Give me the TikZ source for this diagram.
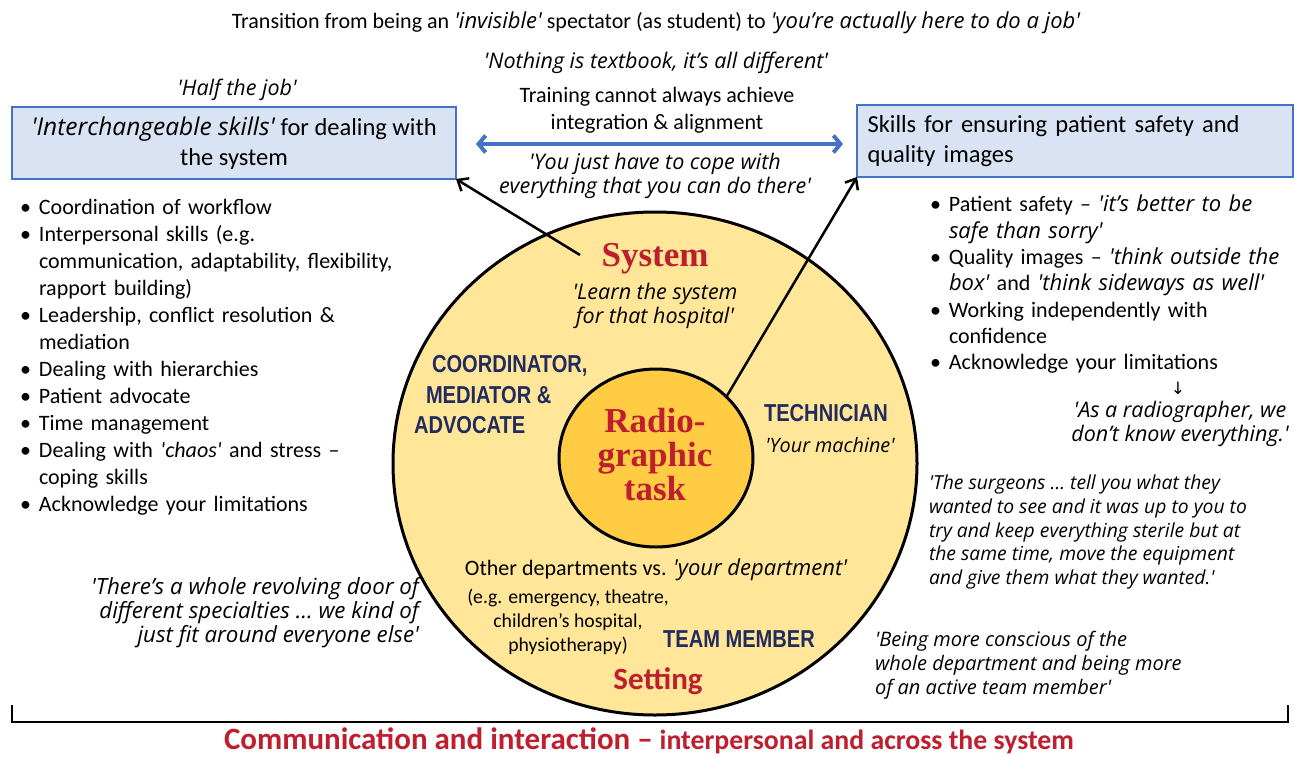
\documentclass[tikz,border=0pt]{standalone}
\usepackage{fontspec}
\setmainfont{Carlito}
\newfontfamily\qfont{Open Sans}
\newfontfamily\serifb{Liberation Serif}
\newfontfamily\rolefont{Liberation Sans}[FakeStretch=0.82]
\newfontfamily\symfont{DejaVu Sans}
\usetikzlibrary{arrows.meta,shapes.geometric}
\definecolor{boxfill}{HTML}{DAE3F3}
\definecolor{boxline}{HTML}{4472C4}
\definecolor{outerfill}{HTML}{FFE699}
\definecolor{innerfill}{HTML}{FFCC44}
\definecolor{darkred}{HTML}{BE1E2D}
\definecolor{navy}{HTML}{222B5E}
\newcommand\qt[1]{{\qfont\itshape #1}}
\newcommand\sq{\textquotesingle}
\newcommand\itm{\par\hangindent=19pt\hangafter=1\noindent\makebox[19pt][l]{\textbullet}}
\newcommand\fs[2]{\fontsize{#1}{#2}\selectfont}
\tikzset{
  x=1pt, y=-1pt,
  every node/.style={inner sep=0pt, outer sep=0pt},
  body/.style={font=\fs{22}{27}},
  quote/.style={font=\qfont\itshape\fs{21.5}{24}},
  skillbox/.style={draw=boxline, line width=2.5pt, fill=boxfill, minimum height=72pt},
  role/.style={font=\rolefont\bfseries\fs{24.5}{30.5}, text=navy},
  bigserif/.style={font=\serifb\bfseries\fs{35}{34}, text=darkred},
  link/.style={line width=2.5pt, -{Straight Barb[length=9pt,width=15pt]}},
  dblarrow/.style={line width=4pt, draw=boxline, {Straight Barb[length=7pt,width=17pt]}-{Straight Barb[length=7pt,width=17pt]}},
}
\begin{document}
\begin{tikzpicture}
\useasboundingbox (0,0) rectangle (1294,758);

% circles
\node[draw, line width=3pt, fill=outerfill, ellipse, minimum width=524pt, minimum height=503pt] (outer) at (655,463.5) {};
\node[draw, line width=3pt, fill=innerfill, ellipse, minimum width=194pt, minimum height=178pt] (inner) at (656,458) {};

% top texts
\node[body] (transition) at (656,23) {Transition from being an \qt{\sq invisible\sq} spectator (as student) to \qt{\sq you’re actually here to do a job\sq}};
\node[quote] (textbook) at (656,63) {\sq Nothing is textbook, it’s all different\sq};
\node[quote] (halfjob) at (237,90) {\sq Half the job\sq};
\node[body, align=center] (training) at (657,110) {Training cannot always achieve\\integration \& alignment};
\node[quote, align=center] (cope) at (655,176) {\sq You just have to cope with\\everything that you can do there\sq};

% boxes
\node[skillbox, minimum width=444pt, align=center, font=\fs{24.5}{30}] (lbox) at (234,143) {\qt{\sq Interchangeable skills\sq} for dealing with\\the system};
\node[skillbox, minimum width=436pt, text width=415pt, align=left, font=\fs{24.5}{30}] (rbox) at (1075,141) {Skills for ensuring patient safety and\\quality images};

\draw[dblarrow] ([xshift=20pt,yshift=-1pt]lbox.east) -- ([xshift=-14pt,yshift=-3pt]rbox.west);

% left list
\node[body, anchor=west, text width=400pt, align=left] (llist) at (20,351) {%
\itm Coordination of workflow
\itm Interpersonal skills (e.g.\newline communication, adaptability, flexibility,\newline rapport building)
\itm Leadership, conflict resolution \&\newline mediation
\itm Dealing with hierarchies
\itm Patient advocate
\itm Time management
\itm Dealing with \textit{\sq chaos\sq} and stress –\newline coping skills
\itm Acknowledge your limitations\par};

% right list
\node[font=\fs{22}{26.33}, anchor=west, text width=360pt, align=left] (rlist) at (930,279.5) {%
\itm Patient safety – \qt{\sq it’s better to be\newline safe than sorry\sq}
\itm Quality images – \qt{\sq think outside the\newline box\sq} and \qt{\sq think sideways as well\sq}
\itm Working independently with\newline confidence
\itm Acknowledge your limitations\par};
\node[font=\symfont\fs{17}{18}] (down) at (1178,388) {↓};
\node[quote, align=center] (radiographer) at (1180,423.5) {\sq As a radiographer, we\\don’t know everything.\sq};

\node[quote, anchor=west, align=left, font=\qfont\itshape\fs{19.3}{23.75}] (surgeons) at (929,532) {\sq The surgeons … tell you what they\\wanted to see and it was up to you to\\try and keep everything sterile but at\\the same time, move the equipment\\and give them what they wanted.\sq};
\node[quote, anchor=west, align=left, font=\qfont\itshape\fs{20}{24}] (conscious) at (875,665.5) {\sq Being more conscious of the\\whole department and being more\\of an active team member\sq};
\node[quote, anchor=east, align=right, font=\qfont\itshape\fs{22.3}{24}] (revolving) at (419,612.5) {\sq There’s a whole revolving door of\\different specialties … we kind of\\just fit around everyone else\sq};

% inside circle
\node[bigserif] (system) at (655,259) {System};
\node[quote, align=center] (learn) at (655,305.5) {\sq Learn the system\\for that hospital\sq};
\node[role, anchor=west, align=left] (coord) at (414,395) {\hspace*{18pt}COORDINATOR,\\\hspace*{12pt}MEDIATOR \&\\ADVOCATE};
\node[bigserif, align=center] (task) at (655,454.5) {Radio-\\graphic\\task};
\node[role] (tech) at (826,413) {TECHNICIAN};
\node[quote, font=\qfont\itshape\fs{19.8}{24}] (machine) at (830,445) {\sq Your machine\sq};
\node[body] (otherdep) at (656,570) {Other departments vs. \qt{\sq your department\sq}};
\node[align=center, font=\fs{19.7}{24}] (eg) at (568,621.5) {(e.g. emergency, theatre,\\children’s hospital,\\physiotherapy)};
\node[role] (team) at (739,639) {TEAM MEMBER};
\node[font=\bfseries\fs{31}{32}, text=darkred] (setting) at (658,681) {Setting};

% connectors
\coordinate (sysfoot) at (580,255);
\draw[link] (sysfoot) -- (lbox.south east);
\draw[link] (inner.41) -- (rbox.south west);

% bracket
\coordinate (brl) at (12,705);
\coordinate (brr) at (1288,705);
\draw[line width=2pt] (brl) -- (12,722) -- (1288,722) -- (brr);
\node[font=\bfseries\fs{31}{32}, text=darkred] (bottom) at (649,741) {Communication and interaction – {\fs{27.8}{32}interpersonal and across the system}};
\end{tikzpicture}
\end{document}
